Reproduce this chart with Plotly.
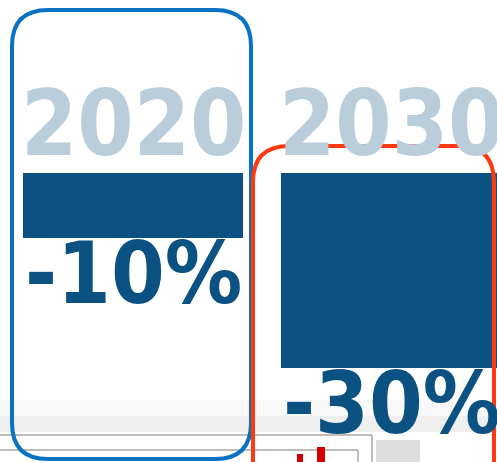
import plotly.graph_objects as go

# ---------------------------------------------------------
# data
# ---------------------------------------------------------
years = ["2020", "2030"]
reduction = [-10, -30]
labels = ["-10%", "-30%"]

W, H = 497, 462
BAR_W = 0.853

DARK = "#0b5283"
PALE = "#b9cddb"


def px(x, y):
    # pixel -> paper coordinates
    return x / W, 1 - y / H


def rounded(x0, y0, x1, y1, r):
    pts = [
        ("M", x0 + r, y0), ("L", x1 - r, y0), ("Q", x1, y0, x1, y0 + r),
        ("L", x1, y1 - r), ("Q", x1, y1, x1 - r, y1), ("L", x0 + r, y1),
        ("Q", x0, y1, x0, y1 - r), ("L", x0, y0 + r), ("Q", x0, y0, x0 + r, y0),
    ]
    out = []
    for p in pts:
        cmd, vals = p[0], p[1:]
        coords = []
        for i in range(0, len(vals), 2):
            a, b = px(vals[i], vals[i + 1])
            coords.append(f"{a:.5f},{b:.5f}")
        out.append(cmd + " " + " ".join(coords))
    return " ".join(out) + " Z"


fig = go.Figure(go.Bar(
    x=years,
    y=reduction,
    width=BAR_W,
    marker=dict(color=DARK, line=dict(width=0)),
    hoverinfo="skip",
))

# year headings above the bars, percentages under them
# (category axis -> annotations placed by category index)
for i, (yr, val, lab) in enumerate(zip(years, reduction, labels)):
    fig.add_annotation(
        x=i, y=0, xref="x", yref="y", text=yr, showarrow=False,
        xanchor="center", yanchor="bottom", yshift=-4, borderpad=0,
        font=dict(family="DejaVu Sans Condensed", size=90, color=PALE, weight="bold"),
    )
    fig.add_annotation(
        x=i, y=val, xref="x", yref="y", text=lab, showarrow=False,
        xanchor="center", yanchor="top", yshift=16, borderpad=0,
        font=dict(family="DejaVu Sans Condensed", size=86, color=DARK, weight="bold"),
    )

shapes = []

# screenshot clutter at the bottom
for top, bot, col in [(400, 416, "#f8f8f8"), (416, 432, "#efefef")]:
    x0, y0 = px(0, top)
    x1, y1 = px(W, bot)
    shapes.append(dict(type="rect", xref="paper", yref="paper", x0=x0, y0=y0, x1=x1, y1=y1,
                       fillcolor=col, line=dict(width=0), layer="below"))
for ax, ay, bx, by in [(0, 435, 372, 435), (372, 435, 372, 462),
                       (0, 450, 358, 450), (358, 450, 358, 462)]:
    a, b = px(ax, ay)
    c, d = px(bx, by)
    shapes.append(dict(type="line", xref="paper", yref="paper", x0=a, y0=b, x1=c, y1=d,
                       line=dict(color="#a6a6a6", width=1.5), layer="below"))
for ax, ay, bx, by, col in [(297, 454, 303, 462, "#d40000"), (317, 447, 325, 462, "#d40000"),
                            (376, 440, 420, 462, "#dcdcdc")]:
    a, b = px(ax, ay)
    c, d = px(bx, by)
    shapes.append(dict(type="rect", xref="paper", yref="paper", x0=a, y0=b, x1=c, y1=d,
                       fillcolor=col, line=dict(width=0), layer="below"))

# highlight outlines
shapes.append(dict(type="path", xref="paper", yref="paper", path=rounded(12, 10, 251, 459, 36),
                   line=dict(color="#0a72c2", width=4), layer="above"))
shapes.append(dict(type="path", xref="paper", yref="paper", path=rounded(253, 146, 494, 500, 36),
                   line=dict(color="#ff3a12", width=4), layer="above"))

zero_px = 173
scale = 6.5
fig.update_layout(
    width=W,
    height=H,
    margin=dict(l=0, r=0, t=0, b=0),
    paper_bgcolor="white",
    plot_bgcolor="white",
    showlegend=False,
    shapes=shapes,
    xaxis=dict(type="category", range=[-133 / 258, (W - 133) / 258], visible=False),
    yaxis=dict(range=[-(H - zero_px) / scale, zero_px / scale], visible=False),
)

fig.write_html("out.html", config={"displayModeBar": False},
               post_script="document.body.style.margin='0';")
